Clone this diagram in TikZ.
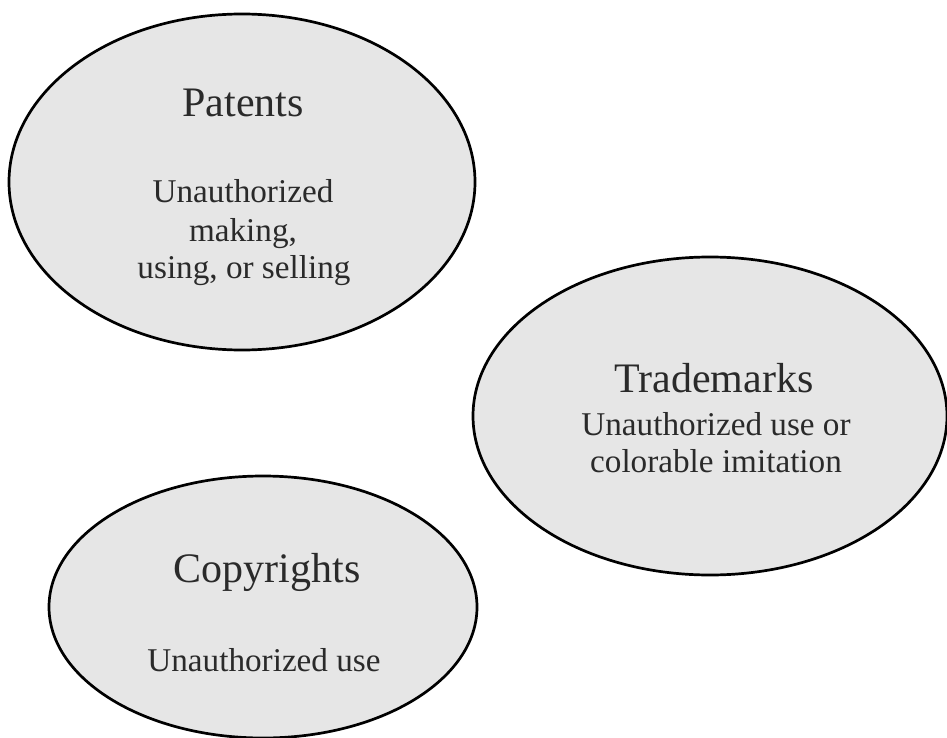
\documentclass[tikz,border=0pt]{standalone}
\usepackage{fontspec}
\setmainfont{Liberation Serif}
\usetikzlibrary{shapes.geometric}
\definecolor{blobfill}{HTML}{E6E6E6}
\definecolor{txt}{HTML}{2A2A2A}
\tikzset{
  blob/.style={ellipse, draw=black, line width=2.7pt, fill=blobfill, inner sep=0pt, outer sep=0pt},
  title/.style={anchor=base, text=txt, font=\fontsize{42}{48}\selectfont, inner sep=0pt},
  body/.style={anchor=base, text=txt, font=\fontsize{33.2}{37}\selectfont, inner sep=0pt, align=center},
}
\begin{document}
\begin{tikzpicture}[x=1pt,y=-1pt]
\useasboundingbox (0,0) rectangle (947,738);
\fill[white] (0,0) rectangle (947,738);
\node[blob, minimum width=466pt, minimum height=336pt] (patents) at (242,182) {};
\node[blob, minimum width=474pt, minimum height=318pt] (trademarks) at (710,416) {};
\node[blob, minimum width=428pt, minimum height=262pt] (copyrights) at (263,607) {};
\node[title] (pt) at (243,117) {Patents};
\node[body] (pb1) at (243,203) {Unauthorized};
\node[body] (pb2) at (243,241) {making,};
\node[body] (pb3) at (244,278) {using, or selling};
\node[title] (tt) at (714,392) {Trademarks};
\node[body] (tb1) at (716,435) {Unauthorized use or};
\node[body] (tb2) at (716,472) {colorable imitation};
\node[title] (ct) at (267,582) {Copyrights};
\node[body] (cb) at (264,671) {Unauthorized use};
\end{tikzpicture}
\end{document}
